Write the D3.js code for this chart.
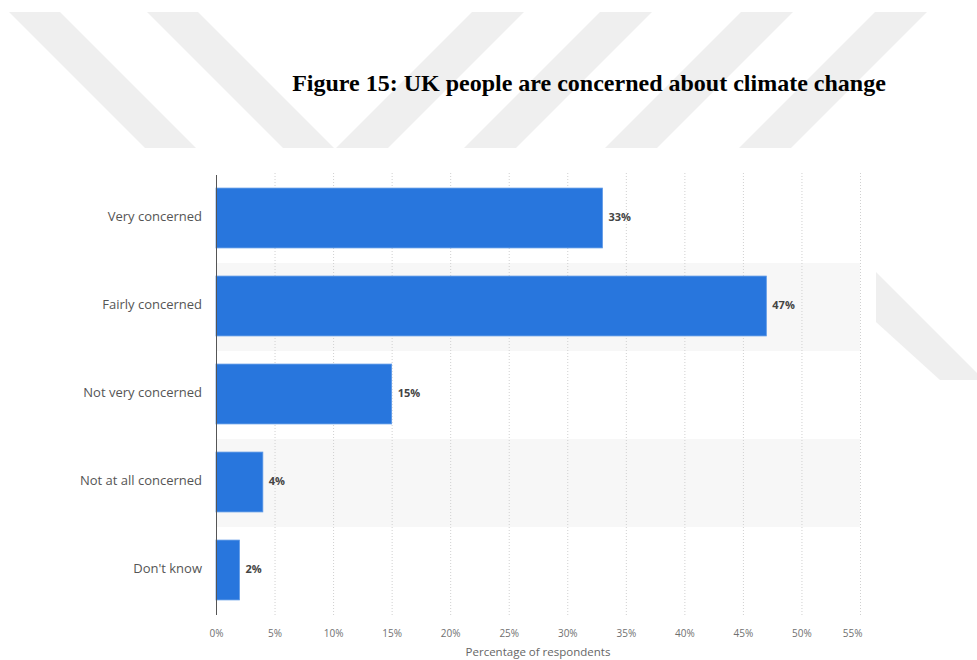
<!DOCTYPE html>
<html>
<head>
<meta charset="utf-8">
<script src="https://cdn.jsdelivr.net/npm/d3@7"></script>
<style>
  html, body { margin: 0; padding: 0; background: #ffffff; }
  svg { display: block; }
</style>
</head>
<body>
<svg id="chart" width="977" height="660"></svg>
<script>
// Survey answers and shares (%)
const categories = ["Very concerned", "Fairly concerned", "Not very concerned", "Not at all concerned", "Don't know"];
const shares = [33, 47, 15, 4, 2];
const tickValues = [0, 5, 10, 15, 20, 25, 30, 35, 40, 45, 50, 55];
const titleText = "Figure 15: UK people are concerned about climate change";
const axisTitle = "Percentage of respondents";

const svg = d3.select("#chart");

// Faint page watermark: slanted stripes behind the heading
const wm = svg.append("g").attr("fill", "#efefef");
const wmTop = 12, wmBottom = 148, wmH = wmBottom - wmTop;
const downStripes = [9, 147];            // left edges at the top, slanting down-right
const upStripes = [472, 600, 741, 875];  // left edges at the top, slanting down-left
downStripes.forEach(x0 => {
  wm.append("polygon").attr("points",
    [[x0, wmTop], [x0 + 51, wmTop], [x0 + 51 + wmH, wmBottom], [x0 + wmH, wmBottom]].join(" "));
});
upStripes.forEach(x0 => {
  wm.append("polygon").attr("points",
    [[x0, wmTop], [x0 + 52, wmTop], [x0 + 52 - wmH, wmBottom], [x0 - wmH, wmBottom]].join(" "));
});
wm.append("polygon").attr("points", [[876, 272], [977, 373], [977, 380], [940, 380], [876, 322]].join(" "));

// Heading
svg.append("text")
  .attr("x", 589).attr("y", 91)
  .attr("text-anchor", "middle")
  .attr("font-family", "'Liberation Serif', 'Times New Roman', serif")
  .attr("font-weight", "bold")
  .attr("font-size", 24)
  .attr("fill", "#000")
  .text(titleText);

// Plot area
const plotLeft = 216, plotRight = 860, plotTop = 175, plotBottom = 615;

const x = d3.scaleLinear().domain([0, 55]).range([plotLeft, plotRight]);
const rows = d3.scaleBand().domain(categories).range([plotTop, plotBottom]).padding(0);
const bars = d3.scaleBand().domain(categories).range([plotTop - 1, plotBottom - 1])
  .paddingInner(0.32).paddingOuter(0.16);

// Alternating row shading
svg.append("g").selectAll("rect")
  .data(categories.filter((d, i) => i % 2 === 1))
  .join("rect")
  .attr("x", plotLeft).attr("width", plotRight - plotLeft)
  .attr("y", d => rows(d)).attr("height", rows.bandwidth())
  .attr("fill", "#f7f7f7");

// Vertical dotted grid lines
svg.append("g").selectAll("line")
  .data(tickValues.filter(v => v > 0))
  .join("line")
  .attr("x1", d => x(d) + 0.5).attr("x2", d => x(d) + 0.5)
  .attr("y1", plotTop - 2).attr("y2", plotBottom)
  .attr("stroke", "#d0d0d0")
  .attr("stroke-width", 1)
  .attr("stroke-dasharray", "1,2");

// Bars
svg.append("g").selectAll("rect")
  .data(categories)
  .join("rect")
  .attr("x", x(0))
  .attr("y", d => bars(d))
  .attr("width", (d, i) => x(shares[i]) - x(0))
  .attr("height", bars.bandwidth())
  .attr("fill", "#2876dd")
  .attr("stroke", "#5a97e6")
  .attr("stroke-width", 0.8);

// Value labels
svg.append("g").selectAll("text")
  .data(categories)
  .join("text")
  .attr("x", (d, i) => x(shares[i]) + 6)
  .attr("y", d => bars(d) + bars.bandwidth() / 2)
  .attr("dy", "0.3em")
  .attr("font-family", "'Open Sans', sans-serif")
  .attr("font-weight", "bold")
  .attr("font-size", 11)
  .attr("fill", "#444")
  .text((d, i) => shares[i] + "%");

// Category axis
const yAxis = svg.append("g")
  .attr("transform", `translate(${plotLeft},0)`)
  .call(d3.axisLeft(rows).tickSize(0).tickPadding(14));
yAxis.select(".domain").attr("stroke", "#555").attr("d", `M0.5,${plotTop}V${plotBottom}`);
yAxis.selectAll("text")
  .attr("font-family", "'Open Sans', sans-serif")
  .attr("font-size", 13)
  .attr("dy", "0.18em")
  .attr("fill", "#555");

// Percentage axis
const xAxis = svg.append("g")
  .attr("transform", `translate(0,${plotBottom})`)
  .call(d3.axisBottom(x).tickValues(tickValues).tickSize(0).tickPadding(15)
    .tickFormat(d => d + "%"));
xAxis.select(".domain").remove();
xAxis.selectAll("text")
  .attr("font-family", "'Open Sans', sans-serif")
  .attr("font-size", 10)
  .attr("fill", "#707070");
xAxis.selectAll(".tick").filter(d => d === 55).select("text")
  .attr("text-anchor", "end").attr("x", 2);

// Axis title
svg.append("text")
  .attr("x", (plotLeft + plotRight) / 2).attr("y", 656)
  .attr("text-anchor", "middle")
  .attr("font-family", "'Open Sans', sans-serif")
  .attr("font-size", 11.5)
  .attr("fill", "#666")
  .text(axisTitle);
</script>
</body>
</html>
